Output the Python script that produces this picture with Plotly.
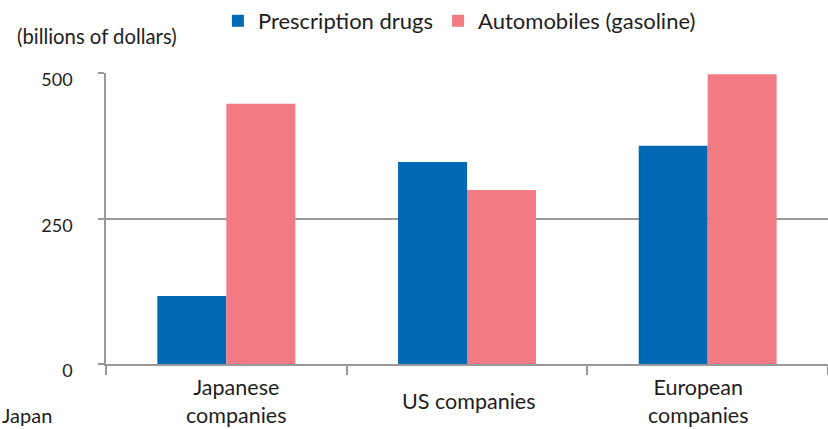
import plotly.graph_objects as go

# Sales by company origin (billions of dollars)
categories = ["Japanese companies", "US companies", "European companies"]
category_labels = ["Japanese<br>companies", "US companies", "European<br>companies"]
prescription_drugs = [117, 347, 375]
automobiles_gasoline = [447, 299, 498]
y_ticks = [0, 250, 500]

BLUE = "#0069B6"
PINK = "#F27B86"
GRID = "#999999"
TEXT = "#1E1E1E"
FONT = "Lato"

fig = go.Figure()
fig.add_trace(go.Bar(
    x=categories, y=prescription_drugs, name="Prescription drugs",
    marker=dict(color=BLUE, line=dict(width=0)),
))
fig.add_trace(go.Bar(
    x=categories, y=automobiles_gasoline, name="Automobiles (gasoline)",
    marker=dict(color=PINK, line=dict(width=0)),
))

# category labels under each group
label_shift = [10, 1, -9]
annotations = []
for cat, lab, dx in zip(categories, category_labels, label_shift):
    annotations.append(dict(
        x=cat, xref="x", y=0, yref="paper", yshift=-37, xshift=dx,
        text=lab, showarrow=False, yanchor="middle", xanchor="center",
        font=dict(family=FONT, size=21.5, color=TEXT),
    ))

annotations.append(dict(
    x=0, xref="paper", xshift=-91, y=1, yref="paper", yshift=37,
    text="(billions of dollars)", showarrow=False, xanchor="left", yanchor="middle",
    font=dict(family=FONT, size=20.3, color=TEXT),
))
annotations.append(dict(
    x=0, xref="paper", xshift=-106, y=0, yref="paper", yshift=-51,
    text="Japan", showarrow=False, xanchor="left", yanchor="middle",
    font=dict(family=FONT, size=20, color=TEXT),
))

fig.update_layout(
    width=828, height=429,
    margin=dict(l=106, r=0, t=73, b=65),
    paper_bgcolor="white", plot_bgcolor="white",
    barmode="group", bargap=0.427, bargroupgap=0,
    font=dict(family=FONT, color=TEXT),
    legend=dict(
        orientation="h", x=0.155, xanchor="left", y=1.18, yanchor="middle",
        font=dict(family=FONT, size=22, color=TEXT), itemwidth=30,
        bgcolor="rgba(0,0,0,0)",
    ),
    annotations=annotations,
    xaxis=dict(
        showline=True, linecolor=GRID, linewidth=1.5,
        ticks="outside", ticklen=9, tickcolor=GRID, tickwidth=1.5,
        tickson="boundaries", showticklabels=False, showgrid=False,
        zeroline=False,
    ),
    yaxis=dict(
        range=[0, 500], tickvals=y_ticks, ticktext=[str(v) for v in y_ticks],
        showline=True, linecolor=GRID, linewidth=1.5,
        ticks="outside", ticklen=6, tickcolor=GRID, tickwidth=1.5,
        showgrid=True, gridcolor=GRID, gridwidth=1.5, zeroline=False,
        tickfont=dict(family=FONT, size=18, color=TEXT),
        ticklabelshift=7, ticklabelstandoff=22,
    ),
)

fig.write_html("out.html")
